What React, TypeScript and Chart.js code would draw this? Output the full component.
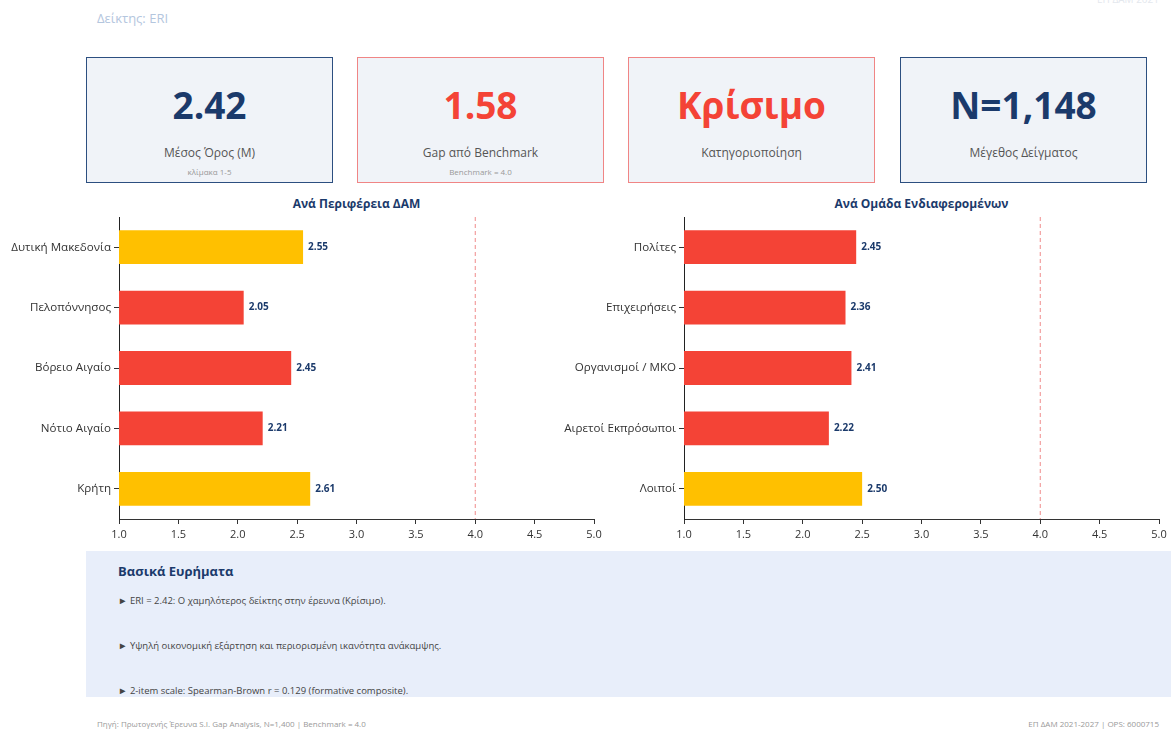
import React, { useEffect, useRef } from "react";
import { Chart, registerables } from "chart.js";

Chart.register(...registerables);

const regionLabels = ["Δυτική Μακεδονία", "Πελοπόννησος", "Βόρειο Αιγαίο", "Νότιο Αιγαίο", "Κρήτη"];
const regionValues = [2.55, 2.05, 2.45, 2.21, 2.61];
const regionColors = ["#FFC000", "#F44336", "#F44336", "#F44336", "#FFC000"];

const groupLabels = ["Πολίτες", "Επιχειρήσεις", "Οργανισμοί / ΜΚΟ", "Αιρετοί Εκπρόσωποι", "Λοιποί"];
const groupValues = [2.45, 2.36, 2.41, 2.22, 2.5];
const groupColors = ["#F44336", "#F44336", "#F44336", "#F44336", "#FFC000"];

const benchmark = 4.0;
const axisMin = 1.0;
const axisMax = 5.0;

const kpiValues = ["2.42", "1.58", "Κρίσιμο", "N=1,148"];
const kpiLabels = ["Μέσος Όρος (M)", "Gap από Benchmark", "Κατηγοριοποίηση", "Μέγεθος Δείγματος"];
const kpiSubs = ["κλίμακα 1-5", "Benchmark = 4.0", "", ""];
const kpiAccent = ["navy", "red", "red", "navy"];

const findings = [
  "ERI = 2.42: Ο χαμηλότερος δείκτης στην έρευνα (Κρίσιμο).",
  "Υψηλή οικονομική εξάρτηση και περιορισμένη ικανότητα ανάκαμψης.",
  "2-item scale: Spearman-Brown r = 0.129 (formative composite).",
];

const FONT = "'Open Sans', 'Noto Sans', sans-serif";
const NAVY = "#1B3A6B";
const RED = "#F44336";

const benchPlugin = {
  id: "benchLine",
  afterDatasetsDraw(chart: any) {
    const { ctx, chartArea, scales } = chart;
    const x = scales.x.getPixelForValue(benchmark);
    ctx.save();
    ctx.strokeStyle = "#F08A8A";
    ctx.lineWidth = 1;
    ctx.setLineDash([4, 3]);
    ctx.beginPath();
    ctx.moveTo(x, chartArea.top);
    ctx.lineTo(x, chartArea.bottom);
    ctx.stroke();
    ctx.restore();
  },
};

const valuePlugin = {
  id: "valueLabels",
  afterDatasetsDraw(chart: any) {
    const { ctx } = chart;
    const meta = chart.getDatasetMeta(0);
    const data = chart.data.datasets[0].data;
    ctx.save();
    ctx.font = `bold 10px ${FONT}`;
    ctx.fillStyle = NAVY;
    ctx.textAlign = "left";
    ctx.textBaseline = "middle";
    meta.data.forEach((bar: any, i: number) => {
      ctx.fillText(Number(data[i]).toFixed(2), bar.x + 5, bar.y);
    });
    ctx.restore();
  },
};

function BarPanel(props: { labels: string[]; values: number[]; colors: string[]; yWidth: number; padRight: number }) {
  const ref = useRef<HTMLCanvasElement>(null);
  useEffect(() => {
    const chart = new Chart(ref.current!, {
      type: "bar",
      data: {
        labels: props.labels,
        datasets: [
          {
            data: props.values,
            backgroundColor: props.colors,
            borderWidth: 0,
            barPercentage: 0.56,
            categoryPercentage: 1,
          },
        ],
      },
      options: {
        indexAxis: "y",
        animation: false,
        responsive: false,
        maintainAspectRatio: false,
        layout: { padding: { top: 22, right: props.padRight, left: 0, bottom: 0 } },
        plugins: { legend: { display: false }, tooltip: { enabled: false }, title: { display: false } },
        scales: {
          x: {
            min: axisMin,
            max: axisMax,
            ticks: {
              stepSize: 0.5,
              color: "#333",
              font: { family: FONT, size: 11 },
              padding: 4,
              callback: (v: any) => Number(v).toFixed(1),
            },
            grid: { display: true, drawOnChartArea: false, drawTicks: true, tickLength: 5, color: "#333" },
            border: { display: true, color: "#333", width: 1 },
            afterFit: (s: any) => {
              s.height = 30;
            },
          },
          y: {
            ticks: { color: "#333", font: { family: FONT, size: 11.6 }, padding: 3 },
            grid: { display: true, offset: false, drawOnChartArea: false, drawTicks: true, tickLength: 5, color: "#333" },
            border: { display: true, color: "#222", width: 1 },
            afterFit: (s: any) => {
              s.width = props.yWidth;
            },
          },
        },
      },
      plugins: [benchPlugin, valuePlugin],
    } as any);
    return () => chart.destroy();
  }, []);
  return <canvas ref={ref} width={610} height={354} style={{ width: "100%", height: "100%", display: "block" }} />;
}

export default function App() {
  const cardLefts = [86, 357, 628, 900];
  return (
    <div style={{ position: "fixed", left: 0, top: 0, width: 1171, height: 729, background: "#fff", fontFamily: FONT, overflow: "hidden" }}>
      <div style={{ position: "absolute", left: 97, top: 9, fontSize: 13, color: "#B4C6DE" }}>Δείκτης: ERI</div>
      <div style={{ position: "absolute", right: 12, top: -8, fontSize: 10, color: "#E4E8EE" }}>ΕΠ ΔΑΜ 2021</div>

      {kpiValues.map((v, i) => (
        <div
          key={i}
          style={{
            position: "absolute",
            left: cardLefts[i],
            top: 57,
            width: 247,
            height: 126,
            boxSizing: "border-box",
            background: "#F0F3F8",
            border: kpiAccent[i] === "navy" ? "1.5px solid #2C4F80" : "1.5px solid #F08585",
          }}
        >
          <div
            style={{
              position: "absolute",
              left: 0,
              right: 0,
              top: 23,
              textAlign: "center",
              fontSize: 37,
              fontWeight: 700,
              lineHeight: "48px",
              color: kpiAccent[i] === "navy" ? NAVY : RED,
            }}
          >
            {v}
          </div>
          <div style={{ position: "absolute", left: 0, right: 0, top: 86, textAlign: "center", fontSize: 12, color: "#555" }}>{kpiLabels[i]}</div>
          {kpiSubs[i] && (
            <div style={{ position: "absolute", left: 0, right: 0, top: 108, textAlign: "center", fontSize: 8, color: "#999" }}>{kpiSubs[i]}</div>
          )}
        </div>
      ))}

      <div style={{ position: "absolute", left: 119, width: 475, top: 195, textAlign: "center", fontSize: 12, fontWeight: 700, color: NAVY }}>
        Ανά Περιφέρεια ΔΑΜ
      </div>
      <div style={{ position: "absolute", left: 684, width: 475, top: 195, textAlign: "center", fontSize: 12, fontWeight: 700, color: NAVY }}>
        Ανά Ομάδα Ενδιαφερομένων
      </div>

      <div style={{ position: "absolute", left: 0, top: 195, width: 610, height: 354 }}>
        <BarPanel labels={regionLabels} values={regionValues} colors={regionColors} yWidth={119} padRight={16} />
      </div>
      <div style={{ position: "absolute", left: 561, top: 195, width: 610, height: 354 }}>
        <BarPanel labels={groupLabels} values={groupValues} colors={groupColors} yWidth={123} padRight={12} />
      </div>

      <div style={{ position: "absolute", left: 86, top: 551, width: 1085, height: 146, background: "#E8EEFA" }}>
        <div style={{ position: "absolute", left: 32, top: 11, fontSize: 13, fontWeight: 700, color: NAVY }}>Βασικά Ευρήματα</div>
        {findings.map((f, i) => (
          <div key={i} style={{ position: "absolute", left: 32, top: 43 + i * 45, fontSize: 9.5, color: "#444" }}>
            ► {f}
          </div>
        ))}
      </div>

      <div style={{ position: "absolute", left: 97, top: 718, fontSize: 8, color: "#999" }}>
        Πηγή: Πρωτογενής Έρευνα S.I. Gap Analysis, N=1,400 | Benchmark = 4.0
      </div>
      <div style={{ position: "absolute", right: 12, top: 718, fontSize: 8, color: "#999" }}>ΕΠ ΔΑΜ 2021-2027 | OPS: 6000715</div>
    </div>
  );
}
